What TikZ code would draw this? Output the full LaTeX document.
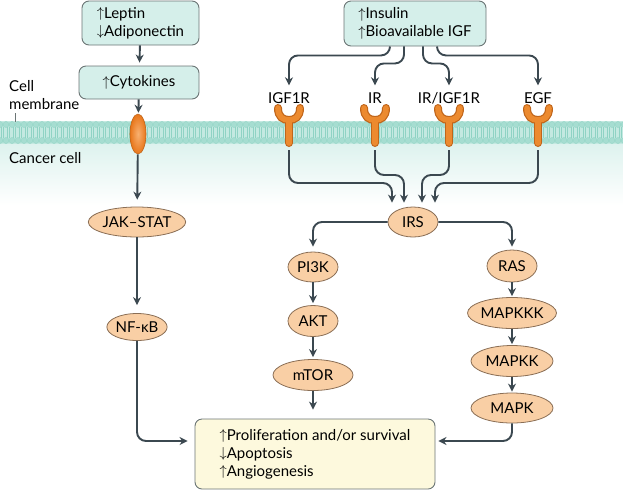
\documentclass[tikz,border=0pt]{standalone}
\usepackage{fontspec}
\setmainfont{Lato}
\usetikzlibrary{shapes.geometric,arrows.meta,calc}
\definecolor{tealfill}{HTML}{D5EFEA}
\definecolor{boxgray}{HTML}{6B7575}
\definecolor{ellfill}{HTML}{F9CFA5}
\definecolor{ellline}{HTML}{8A6E55}
\definecolor{creamfill}{HTML}{FDF9DD}
\definecolor{arrowc}{HTML}{3B4850}
\definecolor{memband}{HTML}{C4E9E1}
\definecolor{memhead}{HTML}{A6DDD1}
\definecolor{memline}{HTML}{8FD3C4}
\definecolor{memgrad}{HTML}{DDF2EE}
\definecolor{recfill}{HTML}{EC8A2F}
\definecolor{recline}{HTML}{C0651A}
\definecolor{chanin}{HTML}{F8B070}
\definecolor{chanout}{HTML}{E8761A}
\newcommand{\upa}{\raisebox{0.5pt}{$\uparrow$}}
\newcommand{\dna}{\raisebox{0.5pt}{$\downarrow$}}
\begin{document}
\begin{tikzpicture}[x=1pt,y=-1pt,font=\fontsize{15}{18}\selectfont]
\tikzset{
 topbox/.style={draw=boxgray, fill=tealfill, rounded corners=7pt, line width=0.9pt, align=left, inner sep=0pt},
 outbox/.style={draw=boxgray, fill=creamfill, rounded corners=7pt, line width=0.9pt, align=left, inner sep=0pt},
 prot/.style={ellipse, draw=ellline, fill=ellfill, line width=0.8pt, inner sep=0pt},
 flow/.style={draw=arrowc, line width=1.9pt, -{Stealth[length=8pt,width=8pt]}, rounded corners=9pt, shorten >=3pt},
 rlabel/.style={inner sep=0pt, text height=11pt, text depth=2pt},
 plain/.style={inner sep=0pt, align=left}
}
\useasboundingbox (0,0) rectangle (623,491);
% background gradient below membrane
\shade[top color=memgrad, bottom color=white] (0,143) rectangle (623,205);
% membrane
\fill[memband] (0,121) rectangle (623,144);
\foreach \i in {0,...,104}{
  \draw[memline, line width=0.3pt] (\i*6+3,127) -- (\i*6+3,138);
  \draw[memline, line width=0.3pt] (\i*6+1.5,127) -- (\i*6+1.5,138);
  \filldraw[fill=memhead, draw=memline, line width=0.3pt] (\i*6,124.5) circle (3);
  \filldraw[fill=memhead, draw=memline, line width=0.3pt] (\i*6,140.5) circle (3);
}
% labels on the left
\node[plain, anchor=north west] (cm) at (9,80) {Cell\\membrane};
\draw[boxgray, line width=0.6pt] (15,113) -- (15,122);
\node[plain, anchor=west] (cc) at (9,158) {Cancer cell};
% receptors
\foreach \x/\n in {289/igf,375/ir,449/irigf,538/egf}{
  \draw[recline, line width=8pt, line cap=round] (\x-11,108) .. controls (\x-11,117) and (\x-6,120) .. (\x,120) .. controls (\x+6,120) and (\x+11,117) .. (\x+11,108);
  \draw[recline, line width=8pt, line cap=round] (\x,120) -- (\x,143);
  \draw[recfill, line width=5.6pt, line cap=round] (\x-11,108) .. controls (\x-11,117) and (\x-6,120) .. (\x,120) .. controls (\x+6,120) and (\x+11,117) .. (\x+11,108);
  \draw[recfill, line width=5.6pt, line cap=round] (\x,120) -- (\x,143);
  \coordinate (rb-\n) at (\x,150);
}
\node[rlabel] (l-igf) at (289,99) {IGF1R};
\node[rlabel] (l-ir) at (375,99) {IR};
\node[rlabel] (l-irigf) at (449,99) {IR/IGF1R};
\node[rlabel] (l-egf) at (538,99) {EGF};
% top boxes
\node[topbox, minimum width=117pt, minimum height=44pt] (lep) at (140.5,23) {\upa Leptin\\\dna Adiponectin};
\node[topbox, minimum width=120pt, minimum height=33pt] (cyt) at (139,82.5) {\upa Cytokines};
\node[topbox, minimum width=142pt, minimum height=45pt] (ins) at (415,23.5) {\upa Insulin\\\upa Bioavailable IGF};
% channel
\node[ellipse, minimum width=16pt, minimum height=40pt, inner sep=0pt, draw=recline, line width=0.6pt, inner color=chanin, outer color=chanout] (chan) at (138,134) {};
% proteins
\node[prot, minimum width=80pt, minimum height=30pt] (jak) at (137,222) {JAK–STAT};
\node[prot, minimum width=59pt, minimum height=27pt] (nfkb) at (137,327) {NF-κB};
\node[prot, minimum width=50pt, minimum height=30pt] (irs) at (413,222) {IRS};
\node[prot, minimum width=50pt, minimum height=30pt] (pi3k) at (313,267) {PI3K};
\node[prot, minimum width=50pt, minimum height=31pt] (akt) at (313,321) {AKT};
\node[prot, minimum width=80pt, minimum height=31pt] (mtor) at (313,375) {mTOR};
\node[prot, minimum width=50pt, minimum height=32pt] (ras) at (512,266) {RAS};
\node[prot, minimum width=82pt, minimum height=31pt] (mapkkk) at (512,313) {MAPKKK};
\node[prot, minimum width=82pt, minimum height=31pt] (mapkk) at (512,361) {MAPKK};
\node[prot, minimum width=82pt, minimum height=30pt] (mapk) at (512,408) {MAPK};
% outcome box
\node[outbox, minimum width=240pt, minimum height=70pt] (out) at (315,454) {\upa Proliferation and/or survival\\\dna Apoptosis\\\upa Angiogenesis};
% left pathway
\draw[flow] (lep) -- (cyt);
\draw[flow, shorten >=1pt] (cyt) -- (chan);
\draw[flow, shorten >=7pt] (chan) -- (jak);
\draw[flow, shorten >=8pt] (jak) -- (nfkb);
\coordinate (ow) at ($(out.west)+(0,-13)$);
\coordinate (oe) at ($(out.east)+(0,-13)$);
\draw[flow, shorten >=7pt] (nfkb.south) |- (ow);
% insulin to receptors
\coordinate (i1) at ($(ins.south)+(-25,0)$);
\coordinate (i2) at ($(ins.south)+(-11,0)$);
\coordinate (i3) at ($(ins.south)+(8,0)$);
\coordinate (i4) at ($(ins.south)+(22,0)$);
\draw[flow, shorten >=7pt] (i1) -- ++(0,9) -| (l-igf.north);
\draw[flow, shorten >=7pt] (i2) -- ++(0,17) -| (l-ir.north);
\draw[flow, shorten >=7pt] (i3) -- ++(0,17) -| (l-irigf.north);
\draw[flow, shorten >=7pt] (i4) -- ++(0,9) -| (l-egf.north);
% receptors to IRS
\coordinate (t1) at ($(irs.north)+(-21,-4)$);
\coordinate (t2) at ($(irs.north)+(-9,-4)$);
\coordinate (t3) at ($(irs.north)+(9,-4)$);
\coordinate (t4) at ($(irs.north)+(22,-4)$);
\draw[flow, shorten >=0pt] (rb-igf) -- ++(0,33) -| (t1);
\draw[flow, shorten >=0pt] (rb-ir) -- ++(0,25) -| (t2);
\draw[flow, shorten >=0pt] (rb-irigf) -- ++(0,25) -| (t3);
\draw[flow, shorten >=0pt] (rb-egf) -- ++(0,33) -| (t4);
% IRS branches
\draw[flow, shorten >=5pt] (irs.west) -| (pi3k.north);
\draw[flow, shorten >=3pt] (irs.east) -| (ras.north);
\draw[flow, shorten >=2pt] (pi3k) -- (akt);
\draw[flow, shorten >=2pt] (akt) -- (mtor);
\draw[flow, shorten >=9pt] (mtor.south) -- (mtor.south |- out.north);
\draw[flow, shorten >=1pt] (ras) -- (mapkkk);
\draw[flow, shorten >=1pt] (mapkkk) -- (mapkk);
\draw[flow, shorten >=1pt] (mapkk) -- (mapk);
\draw[flow] (mapk.south) |- (oe);
\end{tikzpicture}
\end{document}
